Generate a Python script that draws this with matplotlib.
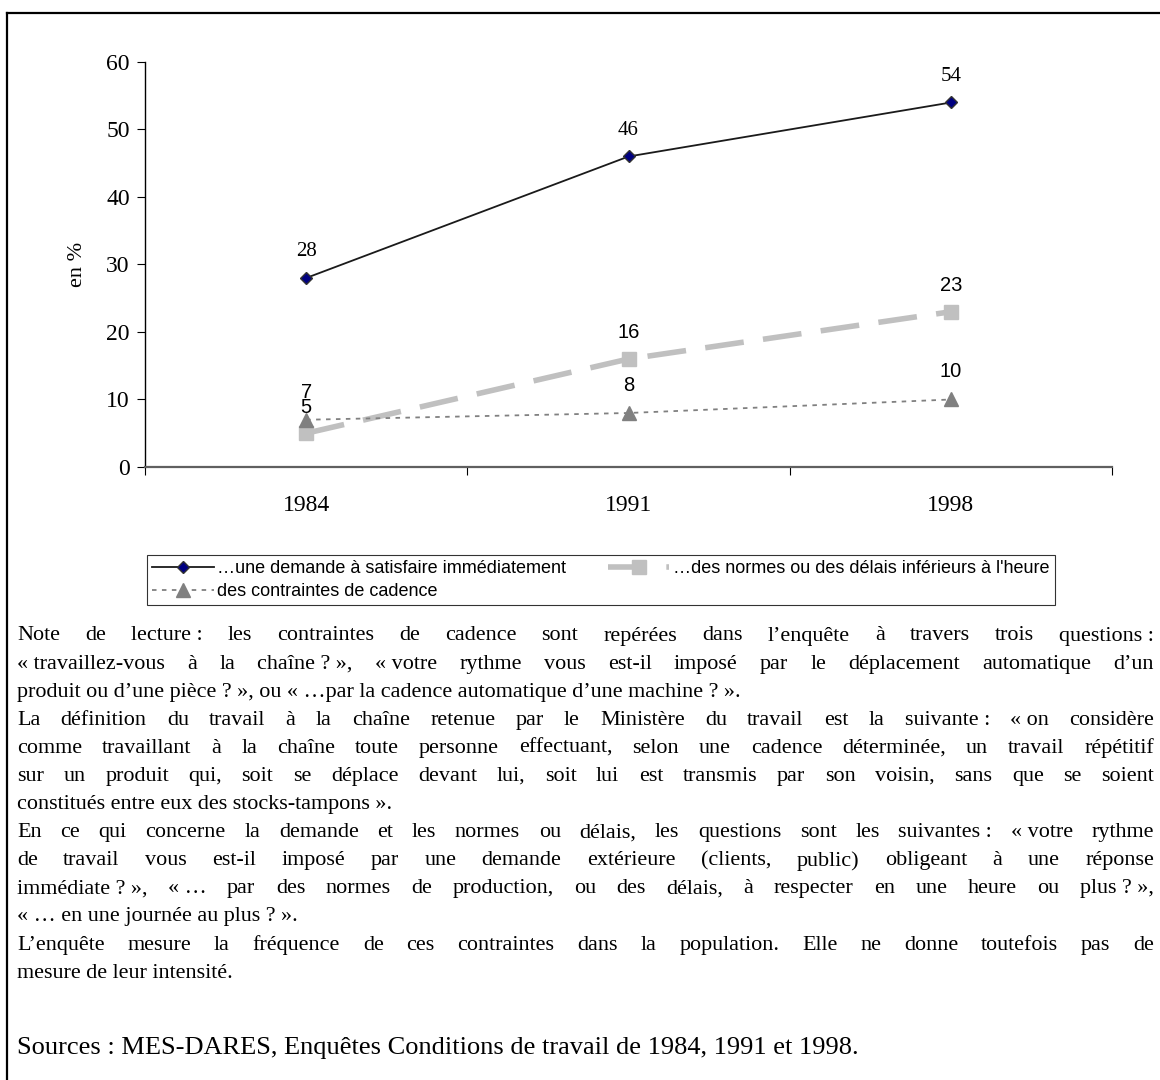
import numpy as np
import matplotlib
matplotlib.use('Agg')
import matplotlib.pyplot as plt
from matplotlib.lines import Line2D

# Données
annees = ['1984', '1991', '1998']
demande = [28, 46, 54]
normes = [5, 16, 23]
cadence = [7, 8, 10]

noms_series = ['…une demande à satisfaire immédiatement',
               "…des normes ou des délais inférieurs à l'heure",
               'des contraintes de cadence']

lignes_note = [
    ('Note de lecture\u00a0: les contraintes de cadence sont repérées dans l’enquête à travers trois questions\u00a0:', True),
    ('«\u00a0travaillez-vous à la chaîne\u00a0?\u00a0», «\u00a0votre rythme vous est-il imposé par le déplacement automatique d’un', True),
    ('produit ou d’une pièce\u00a0?\u00a0», ou «\u00a0…par la cadence automatique d’une machine\u00a0?\u00a0».', False),
    ('La définition du travail à la chaîne retenue par le Ministère du travail est la suivante\u00a0: «\u00a0on considère', True),
    ('comme travaillant à la chaîne toute personne effectuant, selon une cadence déterminée, un travail répétitif', True),
    ('sur un produit qui, soit se déplace devant lui, soit lui est transmis par son voisin, sans que se soient', True),
    ('constitués entre eux des stocks-tampons\u00a0».', False),
    ('En ce qui concerne la demande et les normes ou délais, les questions sont les suivantes\u00a0: «\u00a0votre rythme', True),
    ('de travail vous est-il imposé par une demande extérieure (clients, public) obligeant à une réponse', True),
    ('immédiate\u00a0?\u00a0», «\u00a0… par des normes de production, ou des délais, à respecter en une heure ou plus\u00a0?\u00a0»,', True),
    ('«\u00a0… en une journée au plus\u00a0?\u00a0».', False),
    ('L’enquête mesure la fréquence de ces contraintes dans la population. Elle ne donne toutefois pas de', True),
    ('mesure de leur intensité.', False),
]
source = 'Sources\u00a0: MES-DARES, Enquêtes Conditions de travail de 1984, 1991 et 1998.'

W, H = 1160, 1080
fig = plt.figure(figsize=(W / 100, H / 100), dpi=100)

# Cadre extérieur
fig.add_artist(Line2D([7 / W, 7 / W], [0, 1 - 13 / H], color='black', lw=1.6))
fig.add_artist(Line2D([7 / W, 1], [1 - 13 / H, 1 - 13 / H], color='black', lw=1.6))

ax = fig.add_axes([145 / W, 1 - 467 / H, (1112 - 145) / W, (467 - 62) / H])
x = np.arange(len(annees)) + 0.5

l1, = ax.plot(x, demande, color='#1a1a1a', lw=1.3, marker='D', ms=6.5,
              mfc='#000080', mec='#333333', mew=1.0)
l2, = ax.plot(x, normes, color='#c0c0c0', lw=4, dashes=(7, 3.5), marker='s',
              ms=10, mfc='#c0c0c0', mec='#c0c0c0')
l3, = ax.plot(x, cadence, color='#808080', lw=1.3, dashes=(2.5, 3), marker='^',
              ms=10, mfc='#808080', mec='#808080')

serif = 'Liberation Serif'
sans = 'Liberation Sans'
for xi, v in zip(x, demande):
    ax.annotate(str(v), (xi, v), xytext=(0, 12), textcoords='offset points',
                ha='center', va='bottom', fontsize=15, family=serif)
for xi, v in zip(x, normes):
    ax.annotate(str(v), (xi, v), xytext=(0, 12), textcoords='offset points',
                ha='center', va='bottom', fontsize=14.5, family=sans)
for xi, v in zip(x, cadence):
    ax.annotate(str(v), (xi, v), xytext=(0, 13), textcoords='offset points',
                ha='center', va='bottom', fontsize=14.5, family=sans)

ax.set_xlim(0, 3)
ax.set_ylim(0, 60)
ax.set_yticks(range(0, 61, 10))
ax.set_xticks([0, 1, 2, 3])
ax.set_xticklabels([])
ax.set_xticks(x, minor=True)
ax.set_xticklabels(annees, minor=True, family=serif, fontsize=17)
ax.tick_params(axis='x', which='minor', length=0, pad=20)
ax.tick_params(axis='x', which='major', length=6, direction='out', color='black')
ax.tick_params(axis='y', length=6, direction='out', labelsize=17, pad=5)
for lab in ax.get_yticklabels():
    lab.set_family(serif)
for s in ['top', 'right']:
    ax.spines[s].set_visible(False)
ax.spines['left'].set_linewidth(1.0)
ax.spines['bottom'].set_color('#606060')
ax.spines['bottom'].set_linewidth(1.6)
ax.set_ylabel('en %', family=serif, fontsize=16, labelpad=14)

# Légende (ordre pour obtenir deux entrées sur la première ligne)
leg = fig.legend([l1, l3, l2], [noms_series[0], noms_series[2], noms_series[1]],
                 ncol=2, loc='upper left', bbox_to_anchor=(147 / W, 1 - 555 / H),
                 prop={'family': sans, 'size': 13}, frameon=True, fancybox=False,
                 edgecolor='black', handlelength=3.4, handletextpad=0.2,
                 columnspacing=2.3, borderpad=0.3, labelspacing=0.3,
                 borderaxespad=0)
leg.get_frame().set_linewidth(0.8)

# Texte justifié
renderer = fig.canvas.get_renderer()
fs = 15.9
gauche, droite = 17, 1154
y0 = 636
pas = 28.1


def largeur(mot):
    t = fig.text(0, 0, mot, family=serif, fontsize=fs)
    w = t.get_window_extent(renderer).width
    t.remove()
    return w


for i, (ligne, justifie) in enumerate(lignes_note):
    y = 1 - (y0 + i * pas) / H
    if not justifie:
        fig.text(gauche / W, y, ligne, family=serif, fontsize=fs, va='center')
        continue
    mots = ligne.split(' ')
    larg = [largeur(m) for m in mots]
    esp = (droite - gauche - sum(larg)) / (len(mots) - 1)
    pos = gauche
    for m, w in zip(mots, larg):
        fig.text(pos / W, y, m, family=serif, fontsize=fs, va='center')
        pos += w + esp

fig.text(gauche / W, 1 - 1048 / H, source, family=serif, fontsize=19, va='center')

fig.savefig('out.png', dpi=100)
